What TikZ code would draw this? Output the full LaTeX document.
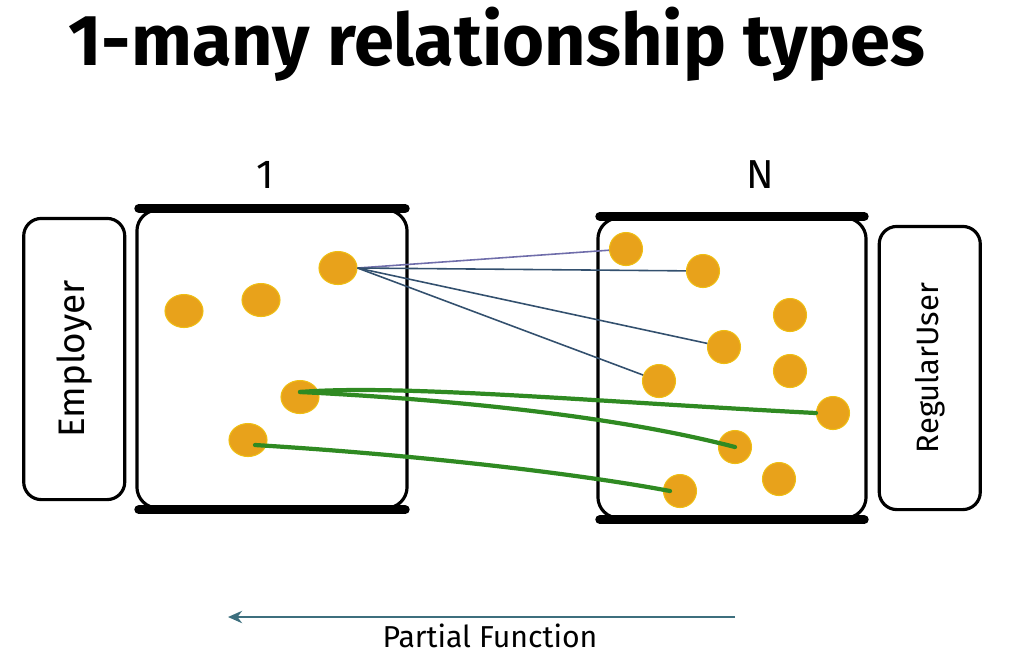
\documentclass[tikz,border=0pt]{standalone}
\usepackage{fontspec}
\setmainfont{Fira Sans}
\definecolor{dotOrange}{HTML}{E8A21B}
\definecolor{linkSlate}{HTML}{33506E}
\definecolor{linkViolet}{HTML}{6F6DAA}
\definecolor{linkGreen}{HTML}{2F8A22}
\definecolor{arrowTeal}{HTML}{3D6F7E}
\usetikzlibrary{arrows.meta, positioning, shapes.geometric}

\begin{document}
\begin{tikzpicture}[
    x=0.01cm, y=-0.01cm,
    node distance=0.09cm,
    setbox/.style={
      draw=black,
      rounded corners=6pt,
      line width=0.9pt,
      minimum width=2.7cm,
      minimum height=2.98cm,
    },
    namebox/.style={
      draw=black,
      rounded corners=5pt,
      line width=0.9pt,
      minimum width=1.01cm,
      minimum height=2.81cm,
    },
    bar/.style={line width=2.6pt, line cap=round},
    dot/.style={
      ellipse,
      fill=dotOrange,
      draw=dotOrange!70!yellow,
      line width=0.3pt,
      minimum width=0.38cm,
      minimum height=0.33cm,
      inner sep=0pt,
    },
    link/.style={linkSlate, line width=0.45pt},
    pair/.style={linkGreen, line width=1.2pt, line cap=round},
    lbl/.style={font=\fontsize{11.5}{13}\selectfont},
  ]
    \useasboundingbox (0,0) rectangle (1020,653);

    % title
    \node[font=\fontsize{20.5}{24}\selectfont\bfseries] (title) at (497,44) {1-many relationship types};

    % the two sets
    \node[setbox] (lset) at (272,359) {};
    \node[setbox, minimum width=2.68cm, minimum height=3cm] (rset) at (732,368) {};
    \draw[bar] ([xshift=1pt]lset.north west) -- ([xshift=-1pt]lset.north east);
    \draw[bar] ([xshift=1pt]lset.south west) -- ([xshift=-1pt]lset.south east);
    \draw[bar] ([xshift=1pt]rset.north west) -- ([xshift=-1pt]rset.north east);
    \draw[bar] ([xshift=1pt]rset.south west) -- ([xshift=-1pt]rset.south east);

    % entity names
    \node[namebox, left=of lset] (employer) {};
    \node[rotate=90, font=\fontsize{10.5}{12}\selectfont] at (employer) {Employer};
    \node[namebox, minimum height=2.83cm, right=0.1cm of rset] (regular) {};
    \node[rotate=90, font=\fontsize{8.8}{10}\selectfont] at (regular) {RegularUser};

    % cardinalities
    \node[lbl] (one) at (265,175) {1};
    \node[lbl] (many) at (760,175) {N};

    % left dots
    \node[dot] (l1) at (184,311) {};
    \node[dot] (l2) at (261,300) {};
    \node[dot] (l3) at (338,268) {};
    \node[dot] (l4) at (300,397) {};
    \node[dot] (l5) at (248,440) {};

    % right dots
    \node[dot, minimum width=0.33cm] (r1) at (626,249) {};
    \node[dot, minimum width=0.33cm] (r2) at (703,271) {};
    \node[dot, minimum width=0.33cm] (r3) at (790,315) {};
    \node[dot, minimum width=0.33cm] (r4) at (724,347) {};
    \node[dot, minimum width=0.33cm] (r5) at (790,371) {};
    \node[dot, minimum width=0.33cm] (r6) at (659,381) {};
    \node[dot, minimum width=0.33cm] (r7) at (833,413) {};
    \node[dot, minimum width=0.33cm] (r8) at (735,447) {};
    \node[dot, minimum width=0.33cm] (r9) at (779,479) {};
    \node[dot, minimum width=0.33cm] (r10) at (680,491) {};

    % one-to-many links
    \draw[link, linkViolet] (l3.east) -- (r1);
    \draw[link] (l3.east) -- (r2);
    \draw[link] (l3.east) -- (r4);
    \draw[link] (l3.east) -- (r6);

    % hand drawn pairs
    \draw[pair] ([yshift=0.05cm]l4.center) .. controls (400,384) and (600,402) .. (r7.west);
    \draw[pair] ([yshift=0.05cm]l4.center) .. controls (420,398) and (600,412) .. (r8.center);
    \draw[pair] ([xshift=0.07cm, yshift=-0.05cm]l5.center) .. controls (420,455) and (580,474) .. ([xshift=-0.1cm]r10.center);

    % direction
    \coordinate (pfstart) at (735,617);
    \coordinate (pfend) at (228,617);
    \draw[arrowTeal, line width=0.6pt, -{Stealth[length=4pt, width=3.5pt]}] (pfstart) -- (pfend);
    \node[font=\fontsize{8.6}{10}\selectfont] (pf) at (490,636) {Partial Function};
\end{tikzpicture}
\end{document}
